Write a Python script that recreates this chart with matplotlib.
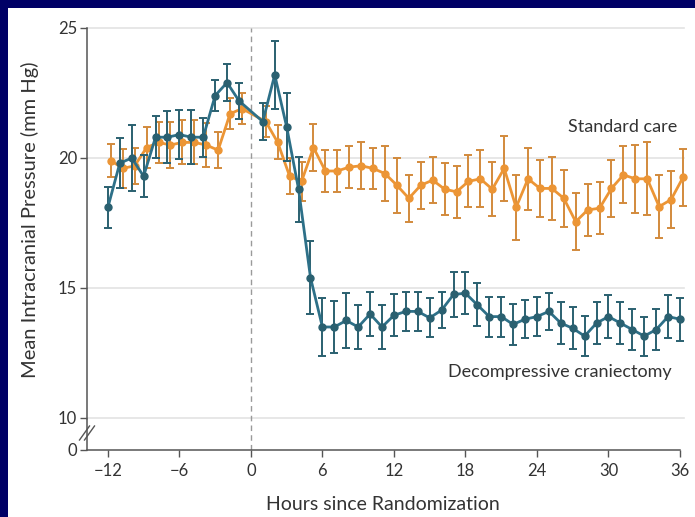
import matplotlib
matplotlib.use("Agg")
import matplotlib.pyplot as plt
import numpy as np
from matplotlib.lines import Line2D

# ---------------- data ----------------
hours = list(range(-12, 0)) + list(range(1, 37))

craniectomy_mean = [18.1, 19.8, 20.0, 19.3, 20.8, 20.8, 20.9, 20.8, 20.8, 22.4, 22.9, 22.2,
                    21.4, 23.2, 21.2, 18.8, 15.4,
                    13.5, 13.5, 13.75, 13.5, 14.0, 13.5, 13.95, 14.1, 14.1, 13.85, 14.15,
                    14.75, 14.8, 14.35, 13.9, 13.9, 13.6, 13.8, 13.9, 14.1, 13.65, 13.45,
                    13.15, 13.65, 13.9, 13.65, 13.4, 13.15, 13.4, 13.9, 13.8]
craniectomy_err = [0.8, 0.95, 1.27, 0.8, 0.8, 1.0, 0.95, 1.05, 0.75, 0.6, 0.7, 0.7,
                   0.7, 1.3, 1.3, 1.25, 1.4,
                   1.1, 1.0, 1.05, 0.85, 0.86, 0.85, 0.8, 0.75, 0.75, 0.75, 0.7,
                   0.85, 0.8, 0.83, 0.77, 0.77, 0.8, 0.72, 0.75, 0.72, 0.8, 0.8,
                   0.78, 0.8, 0.83, 0.8, 0.8, 0.75, 0.8, 0.83, 0.83]

standard_mean = [19.9, 19.6, 19.7, 20.4, 20.6, 20.5, 20.6, 20.6, 20.5, 20.3, 21.7, 21.9,
                 21.4, 20.6, 19.3, 19.1, 20.4,
                 19.5, 19.5, 19.65, 19.7, 19.6, 19.4, 18.95, 18.45, 18.95, 19.15, 18.8,
                 18.7, 19.1, 19.2, 18.8, 19.6, 18.1, 19.2, 18.83, 18.83, 18.45, 17.55,
                 18.0, 18.07, 18.83, 19.35, 19.2, 19.2, 18.13, 18.4, 19.25]
standard_err = [0.65, 0.75, 0.7, 0.8, 0.8, 0.9, 0.85, 0.85, 0.85, 0.7, 0.6, 0.6,
                0.6, 0.65, 0.7, 0.75, 0.9,
                0.8, 0.8, 0.8, 0.9, 0.8, 1.05, 1.05, 0.9, 0.9, 0.9, 1.0,
                1.0, 1.0, 1.1, 1.05, 1.25, 1.25, 1.2, 1.1, 1.2, 1.1, 1.1,
                1.0, 1.0, 1.1, 1.1, 1.3, 1.4, 1.2, 1.1, 1.1]

x_ticks = [-12, -6, 0, 6, 12, 18, 24, 30, 36]
y_ticks = [0, 10, 15, 20, 25]

# ---------------- style ----------------
plt.rcParams['font.family'] = ['Lato', 'DejaVu Sans']
TEAL = '#2d7088'
TEAL_BAR = '#2a6070'
ORANGE = '#ec9535'
ORANGE_BAR = '#d28a3c'
TXT = '#333333'
AXC = '#555555'

fig = plt.figure(figsize=(6.95, 5.17), dpi=100)
fig.patch.set_facecolor('#000066')
bg = fig.add_axes([8 / 695, 0, 1 - 8 / 695, 1 - 8 / 517], zorder=-10)
bg.set_facecolor('white')
bg.set_xticks([]); bg.set_yticks([])
for s in bg.spines.values():
    s.set_visible(False)

ax = fig.add_axes([87 / 695, 1 - 450 / 517, 593 / 695, 422 / 517], zorder=1)
ax.set_facecolor('none')

# broken axis: 0..10 compressed
Y0 = 10 - 32 / 26.0
def fwd(y):
    y = np.asarray(y, dtype=float)
    return np.where(y >= 10, y, Y0 + y * (10 - Y0) / 10.0)
def inv(v):
    v = np.asarray(v, dtype=float)
    return np.where(v >= 10, v, (v - Y0) * 10.0 / (10 - Y0))
ax.set_yscale('function', functions=(fwd, inv))
ax.set_ylim(0, 25)
ax.set_xlim(-13.75, 36)

for g in [10, 15, 20, 25]:
    ax.axhline(g, color='#e3e3e3', lw=1.2, zorder=1, xmax=1.006, clip_on=False)
ax.axvline(0, color='#9a9a9a', lw=1, ls=(0, (4, 3)), zorder=1)

x_std = np.array(hours) + 0.25
x_dc = np.array(hours, dtype=float)

eb1 = ax.errorbar(x_std, standard_mean, yerr=standard_err, color=ORANGE, ecolor=ORANGE_BAR,
                  lw=2, elinewidth=1.4, capsize=3, capthick=1.4, marker='o', ms=5,
                  mfc=ORANGE, mec=ORANGE, zorder=3)
eb2 = ax.errorbar(x_dc, craniectomy_mean, yerr=craniectomy_err, color=TEAL, ecolor=TEAL_BAR,
                  lw=2, elinewidth=1.4, capsize=3, capthick=1.4, marker='o', ms=5,
                  mfc=TEAL_BAR, mec=TEAL_BAR, zorder=4)
for eb in (eb1, eb2):
    for child in eb.get_children():
        child.set_clip_on(False)

# axes styling
for s in ['top', 'right', 'left']:
    ax.spines[s].set_visible(False)
ax.spines['bottom'].set_color(AXC)
ax.spines['bottom'].set_linewidth(1.1)
ytr = ax.get_yaxis_transform()
ax.plot([0, 0], [0, 9.3], transform=ytr, color=AXC, lw=1.1, clip_on=False, zorder=5)
ax.plot([0, 0], [9.75, 25], transform=ytr, color=AXC, lw=1.1, clip_on=False, zorder=5)
# break marks
for off in [-2.5, 2.5]:
    fig.lines.append(Line2D([(87 - 5 + off) / 695, (87 + 5 + off) / 695],
                            [1 - 440 / 517, 1 - 426 / 517],
                            transform=fig.transFigure, color=AXC, lw=1.0, zorder=6))

ax.set_xticks(x_ticks)
ax.set_xticklabels([str(t).replace('-', '\u2212') for t in x_ticks])
ax.set_yticks(y_ticks)
ax.set_yticklabels([str(t) for t in y_ticks])
ax.tick_params(axis='both', colors=AXC, labelcolor=TXT, labelsize=12,
               length=5, width=1)
ax.tick_params(axis='x', pad=4)
ax.tick_params(axis='y', pad=2)
ax.minorticks_off()

fig.text(383 / 695, 1 - 505 / 517, 'Hours since Randomization', ha='center', va='center',
         fontsize=14, color=TXT)
fig.text(30 / 695, 1 - 220 / 517, 'Mean Intracranial Pressure (mm Hg)', ha='center',
         va='center', rotation=90, fontsize=14.5, color=TXT)

ax.text(35.8, 21.2, 'Standard care', ha='right', va='center', fontsize=13, color=TXT)
ax.text(35.3, 11.75, 'Decompressive craniectomy', ha='right', va='center', fontsize=13,
        color=TXT)

fig.savefig('out.png', dpi=100, facecolor=fig.get_facecolor())
